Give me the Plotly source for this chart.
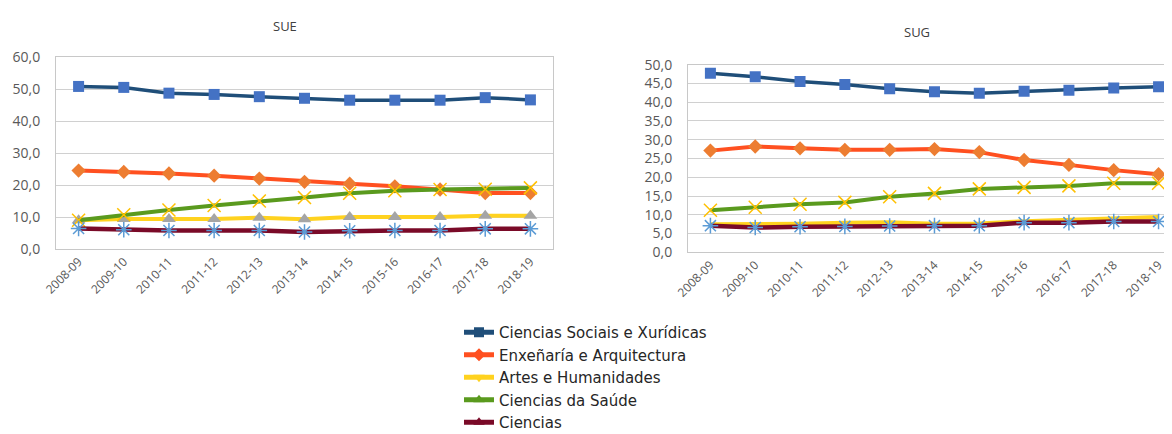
import plotly.graph_objects as go

categories = ["2008-09", "2009-10", "2010-11", "2011-12", "2012-13", "2013-14",
              "2014-15", "2015-16", "2016-17", "2017-18", "2018-19"]

series_names = ["Ciencias Sociais e Xurídicas", "Enxeñaría e Arquitectura",
                "Artes e Humanidades", "Ciencias da Saúde", "Ciencias"]

sue_csx = [50.8, 50.5, 48.7, 48.3, 47.6, 47.1, 46.5, 46.5, 46.5, 47.3, 46.6]
sue_enx = [24.5, 24.1, 23.6, 22.9, 22.0, 21.0, 20.4, 19.6, 18.6, 17.5, 17.5]
sue_art = [9.0, 9.4, 9.4, 9.4, 9.8, 9.3, 10.0, 10.0, 10.0, 10.4, 10.4]
sue_sau = [9.0, 10.7, 12.2, 13.6, 15.0, 16.1, 17.4, 18.2, 18.6, 18.7, 19.1]
sue_cie = [6.4, 6.0, 5.8, 5.8, 5.8, 5.3, 5.7, 5.8, 5.8, 6.3, 6.3]

sug_csx = [47.7, 46.8, 45.5, 44.7, 43.6, 42.8, 42.4, 42.9, 43.2, 43.8, 44.1]
sug_enx = [27.1, 28.2, 27.7, 27.3, 27.3, 27.5, 26.7, 24.6, 23.3, 21.9, 20.8]
sug_art = [7.5, 7.5, 7.6, 7.9, 8.0, 7.6, 7.7, 8.3, 8.6, 9.1, 9.4]
sug_sau = [11.2, 12.0, 12.8, 13.3, 14.8, 15.7, 16.9, 17.3, 17.7, 18.4, 18.4]
sug_cie = [7.1, 6.6, 6.8, 6.9, 7.0, 7.1, 7.1, 7.9, 7.9, 8.2, 8.2]

line_colors = ["#1F4E79", "#FF5020", "#FFD21F", "#5A9A1E", "#7A0A28"]
line_widths = [3.5, 4, 4, 4, 4.5]
plot_markers = [
    dict(symbol="square", size=11, color="#4472C4"),
    dict(symbol="diamond", size=11, color="#ED7D31"),
    dict(symbol="triangle-up", size=12, color="#A5A5A5"),
    dict(symbol="x-thin-open", size=13, color="#FFC000", line=dict(color="#FFC000", width=1.5)),
    dict(symbol="asterisk-open", size=13, color="#5B9BD5", line=dict(color="#5B9BD5", width=1.5)),
]
legend_symbols = ["square", "diamond", "triangle-down", "triangle-up", "triangle-up"]

FONT = "Open Sans"
TXT = "#595959"

fig = go.Figure()

sue = [sue_csx, sue_enx, sue_art, sue_sau, sue_cie]
sug = [sug_csx, sug_enx, sug_art, sug_sau, sug_cie]

for i in range(5):
    fig.add_trace(go.Scatter(
        x=categories, y=sue[i], mode="lines+markers", xaxis="x", yaxis="y",
        line=dict(color=line_colors[i], width=line_widths[i]),
        marker=plot_markers[i], showlegend=False, name=series_names[i]))
for i in range(5):
    mode = "lines" if i == 2 else "lines+markers"
    fig.add_trace(go.Scatter(
        x=categories, y=sug[i], mode=mode, xaxis="x2", yaxis="y2",
        line=dict(color=line_colors[i], width=line_widths[i]),
        marker=plot_markers[i], showlegend=False, name=series_names[i]))
# legend entries
for i in range(5):
    fig.add_trace(go.Scatter(
        x=[categories[0]], y=[None], mode="lines+markers", xaxis="x", yaxis="y",
        line=dict(color=line_colors[i], width=5),
        marker=dict(symbol=legend_symbols[i], size=10, color=line_colors[i]),
        name=series_names[i], showlegend=True))

OFF = 8  # page body margin
W, H = 1172 - OFF, 452  # figure a bit taller than the window

def px(p):
    return (p - OFF) / W

def py(p):
    return 1 - (p - OFF) / H

axis_common = dict(showline=True, linecolor="#C8C8C8", linewidth=1, mirror=True,
                   ticks="", automargin=False)
xfont = dict(family=FONT, size=12, color=TXT)
yfont = dict(family=FONT, size=14, color=TXT)

fig.update_layout(
    width=W, height=H,
    margin=dict(l=0, r=0, t=0, b=0),
    paper_bgcolor="white", plot_bgcolor="white",
    separators=", ",
    font=dict(family=FONT, color=TXT),
    xaxis=dict(domain=[px(56), px(553)], anchor="y", type="category", range=[-0.5, 10.5],
               tickangle=-45, showgrid=False, tickfont=xfont, **axis_common),
    yaxis=dict(domain=[py(249), py(57)], anchor="x", range=[0, 60], dtick=10,
               tickformat=".1f", showgrid=True, gridcolor="#D0D0D0", gridwidth=1,
               zeroline=False, ticklabelstandoff=12, tickfont=yfont, **axis_common),
    xaxis2=dict(domain=[px(688), 1.0], anchor="y2", type="category", range=[-0.5, 10.3],
                tickangle=-45, showgrid=False, tickfont=xfont, **axis_common),
    yaxis2=dict(domain=[py(252.3), py(64.7)], anchor="x2", range=[0, 50], dtick=5,
                tickformat=".1f", showgrid=True, gridcolor="#D0D0D0", gridwidth=1,
                zeroline=False, ticklabelstandoff=12, tickfont=yfont, **axis_common),
    legend=dict(x=451 / W, y=py(316), xanchor="left", yanchor="top",
                font=dict(family="DejaVu Sans", size=15, color="#262626"),
                bgcolor="rgba(0,0,0,0)", tracegroupgap=0),
    annotations=[
        dict(text="SUE", x=px(285), y=py(26), xref="paper", yref="paper",
             xanchor="center", yanchor="middle",
             showarrow=False, font=dict(family=FONT, size=13, color="#404040")),
        dict(text="SUG", x=px(917), y=py(32), xref="paper", yref="paper",
             xanchor="center", yanchor="middle",
             showarrow=False, font=dict(family=FONT, size=13, color="#404040")),
    ],
)

fig.write_html("out.html")
